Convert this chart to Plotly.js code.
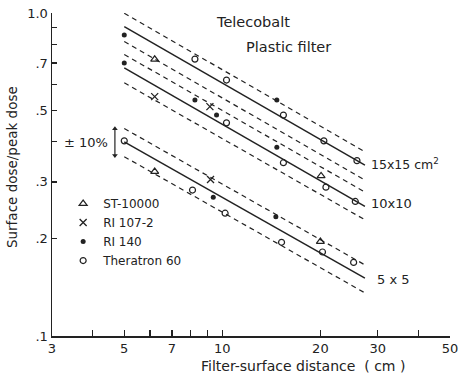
<!DOCTYPE html>
<html><head><meta charset="utf-8">
<script src="https://cdn.plot.ly/plotly-3.0.1.min.js"></script>
<style>html,body{margin:0;padding:0;background:#fff}</style>
</head><body><div id="chart" style="width:461px;height:377px"></div>
<script>
// Fitted lines (start and end of each line, filter-surface distance in cm)
const lineX = [5, 27.4];
const fit15 = [0.907, 0.338];
const up15  = [0.998, 0.372];
const lo15  = [0.816, 0.304];
const fit10 = [0.676, 0.252];
const up10  = [0.744, 0.279];
const lo10  = [0.608, 0.229];
const fit5  = [0.399, 0.151];
const up5   = [0.439, 0.166];
const lo5   = [0.359, 0.136];

// Measured points
const stX = [6.2, 20.1, 6.2, 20.0];
const stY = [0.719, 0.313, 0.323, 0.196];
const riX = [6.2, 9.16, 9.2];
const riY = [0.551, 0.513, 0.305];
const ri140X = [5, 14.7, 5, 8.24, 9.6, 14.7, 9.38, 14.6];
const ri140Y = [0.855, 0.538, 0.70, 0.538, 0.483, 0.384, 0.269, 0.234];
const thX = [8.24, 10.3, 15.4, 20.5, 25.9, 10.3, 15.4, 20.8, 25.6, 5, 8.1, 10.2, 15.2, 20.3, 25.3];
const thY = [0.72, 0.62, 0.483, 0.402, 0.349, 0.457, 0.344, 0.289, 0.261, 0.402, 0.283, 0.240, 0.195, 0.182, 0.169];

// +-10% bracket
const bracketX = [4.68, 4.68];
const bracketY = [0.362, 0.438];

const xTickVals = [3,4,5,6,7,8,9,10,20,30,40,50];
const xTickText = ['3',' ','5',' ','7',' ',' ','10','20','30',' ','50'];
const yTickVals = [0.1,0.2,0.3,0.4,0.5,0.6,0.7,0.8,0.9,1.0];
const yTickText = ['.1','.2','.3',' ','.5',' ','.7',' ',' ','1.0'];

const ink = '#222222';
const FONT = 'DejaVu Sans, sans-serif';

function solid(y){ return {x: lineX, y: y, mode:'lines', line:{color:ink, width:1.5}, showlegend:false, hoverinfo:'skip'}; }
function dashed(y){ return {x: lineX, y: y, mode:'lines', line:{color:ink, width:1.2, dash:'5px,4px'}, showlegend:false, hoverinfo:'skip'}; }

const traces = [
  solid(fit15), dashed(up15), dashed(lo15),
  solid(fit10), dashed(up10), dashed(lo10),
  solid(fit5), dashed(up5), dashed(lo5),
  {x: bracketX, y: bracketY, mode:'lines+markers', line:{color:ink, width:1.2},
   marker:{symbol:['triangle-down','triangle-up'], size:5, color:ink}, showlegend:false, hoverinfo:'skip'},
  {x: stX, y: stY, mode:'markers', name:'ST-10000',
   marker:{symbol:'triangle-up-open', size:7, color:ink, line:{width:1.2, color:ink}}},
  {x: riX, y: riY, mode:'markers', name:'RI 107-2',
   marker:{symbol:'x-thin-open', size:7, color:ink, line:{width:1.3, color:ink}}},
  {x: ri140X, y: ri140Y, mode:'markers', name:'RI 140',
   marker:{symbol:'circle', size:5, color:ink}},
  {x: thX, y: thY, mode:'markers', name:'Theratron 60',
   marker:{symbol:'circle-open', size:6, color:ink, line:{width:1.2, color:ink}}}
];

const txt = (s, x, y, xa, size, extra) => Object.assign({text:s, x:x, y:y, xref:'paper', yref:'paper',
  xanchor:xa, yanchor:'middle', showarrow:false, font:{family:FONT, size:size, color:ink}}, extra||{});

const layout = {
  width: 461, height: 377,
  margin: {l:52, r:11, t:13, b:41},
  paper_bgcolor:'#fff', plot_bgcolor:'#fff',
  font:{family:FONT, color:ink, size:13},
  xaxis: {type:'log', range:[Math.log10(3), Math.log10(50)], tickvals:xTickVals, ticktext:xTickText,
    ticks:'inside', ticklen:6, tickwidth:1.3, tickcolor:ink, showline:true, linecolor:ink, linewidth:1.5,
    showgrid:false, zeroline:false, tickfont:{size:13}},
  yaxis: {type:'log', range:[-1, 0], tickvals:yTickVals, ticktext:yTickText,
    ticks:'inside', ticklen:5, tickwidth:1.3, tickcolor:ink, showline:true, linecolor:ink, linewidth:1.5,
    showgrid:false, zeroline:false, tickfont:{size:13}},
  showlegend:true,
  legend:{x:0.028, y:0.455, xanchor:'left', yanchor:'top', bgcolor:'rgba(0,0,0,0)', font:{size:12, family:FONT}, itemwidth:30, tracegroupgap:0},
  annotations: [
    txt('Telecobalt', 0.505, 0.972, 'center', 14.5),
    txt('Plastic filter', 0.595, 0.895, 'center', 14.5),
    txt('15x15 cm<sup>2</sup>', 0.796, 0.532, 'left', 12.5),
    txt('10x10', 0.796, 0.409, 'left', 13),
    txt('5 x 5', 0.812, 0.176, 'left', 13),
    txt('± 10%', 0.146, 0.60, 'right', 13),
    txt('Surface dose/peak dose', -0.1005, 0.523, 'center', 13.5, {textangle:-90}),
    txt('Filter-surface distance  ( cm )', 0.631, -0.092, 'center', 14)
  ]
};

Plotly.newPlot('chart', traces, layout, {displayModeBar:false, staticPlot:true});
</script>
</body></html>
